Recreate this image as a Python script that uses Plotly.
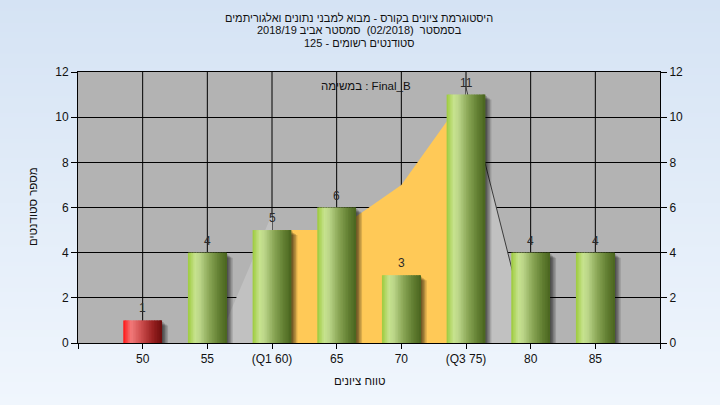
import base64
import struct
import zlib

import plotly.graph_objects as go

# ---------------- data ----------------
categories = ["50", "55", "(Q1 60)", "65", "70", "(Q3 75)", "80", "85"]
grades = [50, 55, 60, 65, 70, 75, 80, 85]
counts = [1, 4, 5, 6, 3, 11, 4, 4]
pass_grade = 55

# background curve pieces (value at category index)
iqr_idx = [2, 3, 4, 5]
iqr_vals = [5, 5, 7, 11]
tail_left_idx = [1, 2]
tail_left_vals = [-1.0, 5.7]
tail_right_idx = [5, 6]
tail_right_vals = [11.3, 0.0]

y_ticks = [0, 2, 4, 6, 8, 10, 12]

title_lines = [
    "היסטוגרמת ציונים בקורס - מבוא למבני נתונים ואלגוריתמים",
    "בסמסטר  (02/2018)  סמסטר אביב 2018/19",
    "סטודנטים רשומים - 125",
]
task_label = "במשימה : Final_B"
x_title = "טווח ציונים"
y_title = "מספר סטודנטים"

# ---------------- geometry ----------------
W, H = 720, 405
ML, MR, MT, MB = 78, 60, 72, 62
PW, PH = W - ML - MR, H - MT - MB
n = len(categories)
xpos = [i + 1 for i in range(n)]
XMAX = n + 1
px_x = PW / XMAX
px_y = PH / 12.0

FONT = "Liberation Sans, DejaVu Sans, Arial, sans-serif"


def hexrgb(h):
    h = h.lstrip("#")
    return tuple(int(h[i:i + 2], 16) for i in (0, 2, 4))


def interp(stops, t):
    for (t0, c0), (t1, c1) in zip(stops, stops[1:]):
        if t0 <= t <= t1:
            f = (t - t0) / (t1 - t0) if t1 > t0 else 0
            a, b = hexrgb(c0), hexrgb(c1)
            return "rgb(%d,%d,%d)" % tuple(round(a[k] + (b[k] - a[k]) * f) for k in range(3))
    return stops[-1][1]


green_stops = [(0, "#9cca3c"), (0.18, "#c7e38e"), (0.3, "#bcd68a"),
               (0.55, "#8aa656"), (0.8, "#627f32"), (1, "#4a651f")]
red_stops = [(0, "#ff1414"), (0.2, "#f27a7a"), (0.45, "#cf5050"),
             (0.75, "#9a2222"), (1, "#6c0c0c")]


def png_gradient(h, top, bot):
    rows = b""
    for r in range(h):
        f = r / (h - 1)
        px = bytes(round(top[k] + (bot[k] - top[k]) * f) for k in range(3))
        rows += b"\x00" + px

    def chunk(tag, data):
        return (struct.pack(">I", len(data)) + tag + data
                + struct.pack(">I", zlib.crc32(tag + data) & 0xFFFFFFFF))

    raw = b"\x89PNG\r\n\x1a\n"
    raw += chunk(b"IHDR", struct.pack(">IIBBBBB", 1, h, 8, 2, 0, 0, 0))
    raw += chunk(b"IDAT", zlib.compress(rows))
    raw += chunk(b"IEND", b"")
    return "data:image/png;base64," + base64.b64encode(raw).decode()


fig = go.Figure()

# background area pieces (main subplot, drawn beneath the bars)
fig.add_trace(go.Scatter(x=[xpos[i] for i in tail_left_idx], y=tail_left_vals,
                         fill="tozeroy", mode="lines", line=dict(width=0, color="#c1c1c1"),
                         fillcolor="#c1c1c1", hoverinfo="skip", showlegend=False))
fig.add_trace(go.Scatter(x=[xpos[i] for i in tail_right_idx], y=tail_right_vals,
                         fill="tozeroy", mode="lines", line=dict(width=1, color="#3c3c3c"),
                         fillcolor="#c1c1c1", hoverinfo="skip", showlegend=False))
fig.add_trace(go.Scatter(x=[xpos[i] for i in iqr_idx], y=iqr_vals,
                         fill="tozeroy", mode="lines", line=dict(width=0, color="#ffc957"),
                         fillcolor="#ffc957", hoverinfo="skip", showlegend=False))

BW = 0.6
# shadows (overlay subplot)
for dxp, dyp, a in [(1.5, 1.5, 0.2), (3, 3, 0.2), (4.5, 4, 0.18), (6, 5, 0.14)]:
    dx, dy = dxp / px_x, dyp / px_y
    fig.add_trace(go.Bar(x=xpos, y=counts, base=[-dy] * n, width=[BW] * n, yaxis="y2",
                         offset=-BW / 2 + dx,
                         marker=dict(color="rgba(0,0,0,%g)" % a, line=dict(width=0)),
                         hoverinfo="skip", showlegend=False))

# cylinder strips
NS = 24
step = BW / NS
for i in range(NS):
    t = (i + 0.5) / NS
    cols = [interp(red_stops if g < pass_grade else green_stops, t) for g in grades]
    w = step * 1.6 if i < NS - 1 else step
    fig.add_trace(go.Bar(x=xpos, y=counts, width=[w] * n, offset=-BW / 2 + i * step, yaxis="y2",
                         marker=dict(color=cols, line=dict(width=0)),
                         hoverinfo="skip", showlegend=False))

axis_font = dict(family=FONT, size=12, color="#111111")

fig.update_layout(
    width=W, height=H,
    margin=dict(l=ML, r=MR, t=MT, b=MB, autoexpand=False),
    paper_bgcolor="#e3ecf8",
    plot_bgcolor="rgba(0,0,0,0)",
    barmode="overlay",
    showlegend=False,
    xaxis=dict(range=[0, XMAX], tickvals=list(range(0, XMAX + 1)),
               ticktext=[""] + categories + [""], automargin=False,
               showgrid=False, zeroline=False,
               showline=True, linecolor="black", linewidth=1, mirror=True,
               ticks="outside", ticklen=5, tickcolor="black", tickfont=axis_font),
    yaxis=dict(range=[0, 12], tickvals=y_ticks, showgrid=True, gridcolor="black", gridwidth=1,
               zeroline=False, showline=True, linecolor="black", linewidth=1, mirror=True,
               automargin=False,
               ticks="outside", ticklen=6, tickcolor="black", tickfont=axis_font),
    yaxis2=dict(range=[0, 12], tickvals=y_ticks, overlaying="y", side="right",
                showgrid=False, zeroline=False, showline=False, automargin=False,
                ticks="outside", ticklen=6, tickcolor="black", tickfont=axis_font),
)

# value labels
for xv, c in zip(xpos, counts):
    fig.add_annotation(x=xv, y=c, xref="x", yref="y2", text=str(c), showarrow=False,
                       xanchor="center", yanchor="bottom", yshift=3,
                       font=dict(family=FONT, size=12, color="#2a2a2a"))

# plot background (first, so everything else sits above it)
fig.add_shape(type="rect", xref="paper", yref="paper", x0=0, x1=1, y0=0, y1=1,
              fillcolor="#b3b3b3", line=dict(width=0), layer="below")

# vertical gridlines at categories
for xv in xpos:
    fig.add_shape(type="line", xref="x", yref="y", x0=xv, x1=xv, y0=0, y1=12,
                  line=dict(color="black", width=1), layer="below")

# page gradient
fig.add_layout_image(dict(source=png_gradient(H, (213, 227, 244), (240, 246, 253)),
                          xref="paper", yref="paper", x=-ML / PW, y=1 + MT / PH,
                          sizex=W / PW, sizey=H / PH, sizing="stretch",
                          xanchor="left", yanchor="top", layer="below"))


def ypaper(ypx):
    return (H - MB - ypx) / PH


def xpaper(xpx):
    return (xpx - ML) / PW


for line, ypx in zip(title_lines, [18, 30.5, 43]):
    fig.add_annotation(text=line, xref="paper", yref="paper", x=xpaper(359), y=ypaper(ypx),
                       showarrow=False, xanchor="center", yanchor="middle",
                       font=dict(family=FONT, size=11, color="#111111"))

fig.add_annotation(text=task_label, xref="paper", yref="paper", x=xpaper(366), y=ypaper(86),
                   showarrow=False, xanchor="center", yanchor="middle",
                   font=dict(family=FONT, size=11.5, color="#111111"))
fig.add_annotation(text=x_title, xref="paper", yref="paper", x=xpaper(360), y=ypaper(381),
                   showarrow=False, xanchor="center", yanchor="middle",
                   font=dict(family=FONT, size=11.5, color="#111111"))
fig.add_annotation(text=y_title, xref="paper", yref="paper", x=xpaper(33), y=ypaper(207),
                   showarrow=False, xanchor="center", yanchor="middle", textangle=-90,
                   font=dict(family=FONT, size=11.5, color="#111111"))

fig.write_html("out.html", config={"displayModeBar": False},
               post_script="document.body.style.margin='0';document.body.style.overflow='hidden';")
